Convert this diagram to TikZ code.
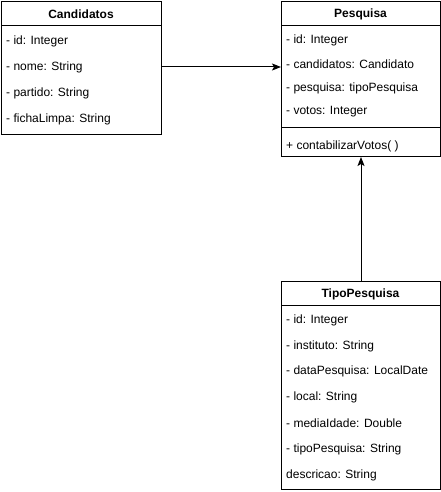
\documentclass[tikz,border=0pt]{standalone}
\usepackage{fontspec}
\setmainfont{Liberation Sans}
\usetikzlibrary{positioning,arrows.meta}

\begin{document}
\begin{tikzpicture}[x=1pt,y=-1pt,
      cls/.style={draw, line width=1pt, fill=white, anchor=north west,
                  inner sep=0pt, minimum width=159pt},
      hd/.style={font=\fontsize{12}{14}\selectfont\bfseries, inner sep=0pt},
      attr/.style={anchor=west, font=\fontsize{12}{14}\selectfont, inner sep=0pt},
      conn/.style={line width=1pt, -{Stealth[length=9pt,width=7pt,inset=2pt]}}]
    \useasboundingbox (0,0) rectangle (441,492);
    % class boxes
    \node[cls, minimum width=160pt, minimum height=133pt] (cand) at (1,1) {};
    \node[cls, minimum height=155pt] (pes) at (281,1) {};
    \node[cls, minimum height=208pt] (tipo) at (281,281) {};
    % compartment lines
    \draw[line width=1pt] ([yshift=-25pt]cand.north west) -- ([yshift=-25pt]cand.north east);
    \draw[line width=1pt] ([yshift=-25pt]pes.north west) -- ([yshift=-25pt]pes.north east);
    \draw[line width=1pt] ([yshift=-126pt]pes.north west) -- ([yshift=-126pt]pes.north east);
    \draw[line width=1pt] ([yshift=-24pt]tipo.north west) -- ([yshift=-24pt]tipo.north east);
    % headers
    \node[hd] (cand-hd) at (81,14) {Candidatos};
    \node[hd] (pes-hd) at (360.5,14) {Pesquisa};
    \node[hd] (tipo-hd) at (360.5,294) {TipoPesquisa};
    % attributes
    \foreach \t [count=\i] in {- id: Integer, - nome: String, - partido: String,
                               - fichaLimpa: String}
      {\node[attr] (cand-\i) at (6,{41+26*(\i-1)}) {\t};}
    \foreach \t [count=\i] in {- id: Integer, - candidatos: Candidato,
                               - pesquisa: tipoPesquisa, - votos: Integer}
      {\node[attr] (pes-\i) at (286,{40+24*(\i-1)}) {\t};}
    \node[attr] (pes-m) at (286,146) {+ contabilizarVotos( )};
    \foreach \t [count=\i] in {- id: Integer, - instituto: String,
                               - dataPesquisa: LocalDate, - local: String,
                               - mediaIdade: Double, - tipoPesquisa: String,
                               descricao: String}
      {\node[attr] (tipo-\i) at (286,{320+25.9*(\i-1)}) {\t};}
    % associations
    \draw[conn] ([yshift=1pt]cand.east) -- ([yshift=1pt]cand.east -| pes.west);
    \draw[conn] (tipo.north) -- (pes.south);
  \end{tikzpicture}
\end{document}
